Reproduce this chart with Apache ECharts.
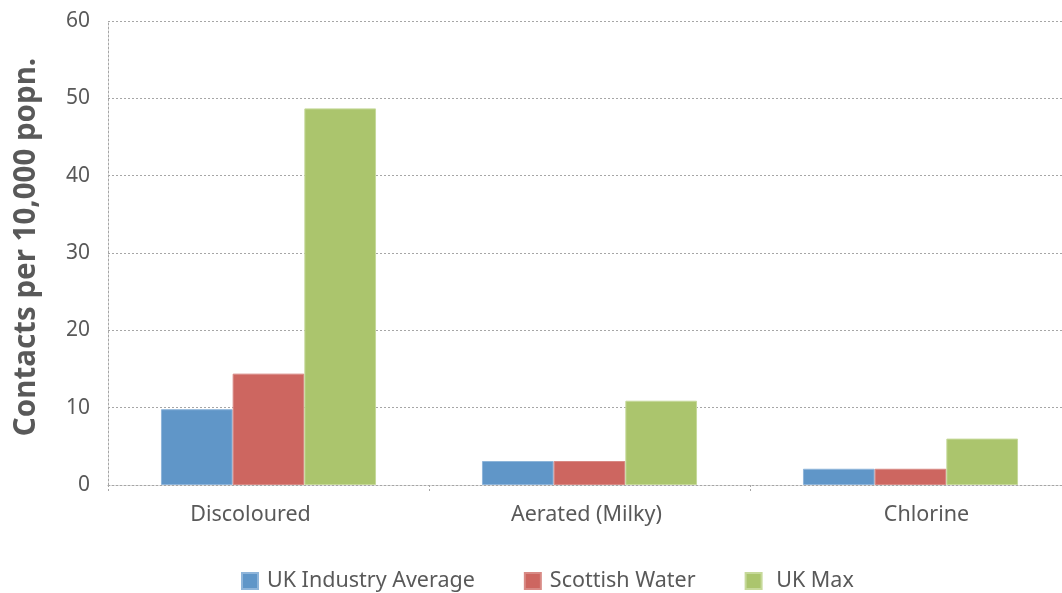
<!DOCTYPE html>
<html>
<head>
<meta charset="utf-8">
<script src="https://cdn.jsdelivr.net/npm/echarts@6/dist/echarts.min.js"></script>
<style>
  html, body { margin: 0; padding: 0; background: #fff; overflow: hidden; }
  /* the plot runs slightly past the right edge of the page */
  #chart { width: 1080px; height: 593px; }
</style>
</head>
<body>
<div id="chart"></div>
<script>
// Customer contacts about water appearance, per 10,000 population
const categories = ['Discoloured', 'Aerated (Milky)', 'Chlorine'];
const ukIndustryAverage = [9.8, 3.1, 2.1];
const scottishWater = [14.4, 3.1, 2.1];
const ukMax = [48.7, 10.9, 6.0];
const yTicks = { min: 0, max: 60, interval: 10 };

const FONT = 'Noto Sans';
const TEXT = '#595959';
const dotted = { color: '#a6a6a6', type: [2, 2], width: 1 };

const chart = echarts.init(document.getElementById('chart'), null, { renderer: 'canvas' });

function bar(name, data, color, border) {
  return {
    name: name,
    type: 'bar',
    data: data,
    barGap: '0%',
    barCategoryGap: '33%',
    itemStyle: { color: color, borderColor: border, borderWidth: 1 },
    emphasis: { disabled: true }
  };
}

// category labels sit a little off their group centres
const labelStyle = { fontFamily: FONT, fontSize: 21.5, color: TEXT };
const richLabels = {
  c0: Object.assign({ padding: [0, 36, 0, 0] }, labelStyle),
  c1: Object.assign({ padding: [0, 6, 0, 0] }, labelStyle),
  c2: Object.assign({ padding: [0, 0, 0, 32] }, labelStyle)
};

chart.setOption({
  animation: false,
  textStyle: { fontFamily: FONT },
  grid: { left: 108, top: 21, width: 963, height: 464, containLabel: false },
  legend: {
    top: 565,
    left: 236,
    itemWidth: 16,
    itemHeight: 16,
    itemGap: 49,
    icon: 'rect',
    textStyle: { fontFamily: FONT, fontSize: 21.5, color: TEXT, padding: [0, 0, 0, 4] },
    data: ['UK Industry Average', 'Scottish Water', ' UK Max']
  },
  xAxis: {
    type: 'category',
    data: categories,
    axisLine: { show: true, lineStyle: dotted },
    axisTick: { show: true, length: 8, lineStyle: dotted },
    axisLabel: {
      fontFamily: FONT, fontSize: 21.5, color: TEXT, margin: 19,
      formatter: function (value, index) { return '{c' + index + '|' + value + '}'; },
      rich: richLabels
    },
    splitLine: { show: false }
  },
  yAxis: {
    type: 'value',
    min: yTicks.min,
    max: yTicks.max,
    interval: yTicks.interval,
    name: 'Contacts per 10,000 popn.',
    nameLocation: 'middle',
    nameGap: 66,
    nameTextStyle: { fontFamily: FONT, fontSize: 29.5, fontWeight: 'bold', color: TEXT, padding: [0, 0, 0, 12] },
    axisLine: { show: true, lineStyle: dotted },
    axisTick: { show: false },
    axisLabel: { fontFamily: FONT, fontSize: 21, color: TEXT, margin: 18 },
    splitLine: { show: true, lineStyle: dotted }
  },
  series: [
    bar('UK Industry Average', ukIndustryAverage, '#6096c8', '#8fb5da'),
    bar('Scottish Water', scottishWater, '#cd6660', '#d88a85'),
    bar(' UK Max', ukMax, '#abc56d', '#c6d99a')
  ]
});
</script>
</body>
</html>
